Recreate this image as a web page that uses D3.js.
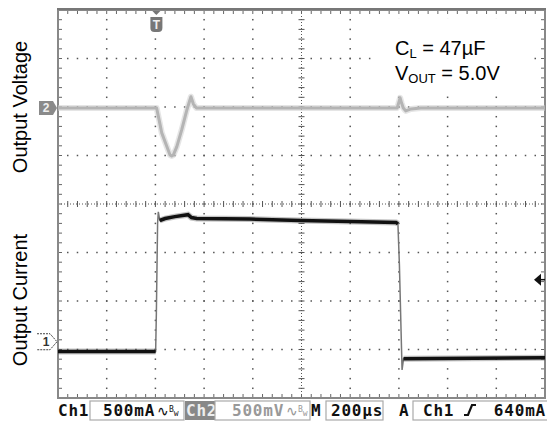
<!DOCTYPE html>
<html>
<head>
<meta charset="utf-8">
<script src="https://cdn.jsdelivr.net/npm/d3@7"></script>
<style>
body { margin: 0; background: #fff; }
svg { display: block; }
</style>
</head>
<body>
<script>
// Ch1: output current (A), time in µs from the left edge of the screen
var ch1Time = [0, 401, 404, 409, 412, 418, 440, 480, 534, 548, 570, 788, 994, 1199, 1388, 1396, 1402, 1409, 1413, 1419, 2000];
var ch1Amps = [-0.10, -0.10, 0.30, 1.22, 1.34, 1.25, 1.27, 1.29, 1.31, 1.28, 1.27, 1.265, 1.25, 1.24, 1.23, 1.215, 0.80, 0.10, -0.29, -0.175, -0.165];

// Ch2: output voltage, AC coupled, deviation from 5.0V in mV
var ch2Time = [0, 405, 415, 426, 447, 460, 467, 474, 488, 508, 529, 546, 556, 568, 1393, 1400, 1405, 1411, 1418, 1428, 1450, 1490, 2000];
var ch2mV = [0, 0, -120, -257, -398, -484, -495, -484, -398, -226, -21, 116, 40, 0, 0, 60, 105, 50, 0, -30, -10, 0, 0];

// scope settings
var ch1Scale = 500;      // mA / div
var ch2Scale = 500;      // mV / div
var timeScale = 200;     // µs / div
var trigLevel = 640;     // mA
var ch1Offset = -2.84;   // divisions from centre
var ch2Offset = 1.98;

var W = 547, H = 421;
var box = {left: 58, right: 545, top: 10, bottom: 398};

var svg = d3.select('body').append('svg')
    .attr('width', W)
    .attr('height', H)
    .style('font-family', '"Liberation Sans", Arial, sans-serif');

var x = d3.scaleLinear().domain([0, 10 * timeScale]).range([box.left, box.right]);
var yDiv = d3.scaleLinear().domain([-4, 4]).range([box.bottom, box.top]);

function ch1Y(a) { return yDiv(a * 1000 / ch1Scale + ch1Offset); }
function ch2Y(mv) { return yDiv(mv / ch2Scale + ch2Offset); }

var g = svg.append('g');

// grid: dots every minor division on each major line
var majorX = d3.range(1, 10).map(function(i) { return i * timeScale; });
var majorY = d3.range(-3, 4);
var minorX = d3.range(0, 51).map(function(i) { return i * timeScale / 5; });
var minorY = d3.range(0, 41).map(function(i) { return -4 + i / 5; });

majorX.forEach(function(t) {
    if (t === 5 * timeScale) return;
    g.selectAll(null).data(minorY).enter().append('rect')
        .attr('x', x(t) - 0.75).attr('y', function(d) { return yDiv(d) - 0.75; })
        .attr('width', 1.5).attr('height', 1.5)
        .attr('fill', '#555');
});
majorY.forEach(function(v) {
    if (v === 0) return;
    g.selectAll(null).data(minorX).enter().append('rect')
        .attr('x', function(d) { return x(d) - 0.75; }).attr('y', yDiv(v) - 0.75)
        .attr('width', 1.5).attr('height', 1.5)
        .attr('fill', '#555');
});

// centre lines with ticks
g.append('line')
    .attr('x1', box.left).attr('x2', box.right)
    .attr('y1', yDiv(0)).attr('y2', yDiv(0))
    .attr('stroke', '#555').attr('stroke-dasharray', '1,2');
g.append('line')
    .attr('x1', x(5 * timeScale)).attr('x2', x(5 * timeScale))
    .attr('y1', box.top).attr('y2', box.bottom)
    .attr('stroke', '#555').attr('stroke-dasharray', '1,2');
g.selectAll(null).data(minorX).enter().append('line')
    .attr('x1', function(d) { return x(d); }).attr('x2', function(d) { return x(d); })
    .attr('y1', yDiv(0) - 3).attr('y2', yDiv(0) + 3)
    .attr('stroke', '#555');
g.selectAll(null).data(minorY).enter().append('line')
    .attr('y1', function(d) { return yDiv(d); }).attr('y2', function(d) { return yDiv(d); })
    .attr('x1', x(5 * timeScale) - 3).attr('x2', x(5 * timeScale) + 3)
    .attr('stroke', '#555');

// edge ticks
g.selectAll(null).data(minorX).enter().append('line')
    .attr('x1', function(d) { return x(d); }).attr('x2', function(d) { return x(d); })
    .attr('y1', box.top).attr('y2', box.top + 4)
    .attr('stroke', '#666');
g.selectAll(null).data(minorX).enter().append('line')
    .attr('x1', function(d) { return x(d); }).attr('x2', function(d) { return x(d); })
    .attr('y1', box.bottom - 4).attr('y2', box.bottom)
    .attr('stroke', '#666');
g.selectAll(null).data(minorY).enter().append('line')
    .attr('y1', function(d) { return yDiv(d); }).attr('y2', function(d) { return yDiv(d); })
    .attr('x1', box.left).attr('x2', box.left + 4)
    .attr('stroke', '#666');
g.selectAll(null).data(minorY).enter().append('line')
    .attr('y1', function(d) { return yDiv(d); }).attr('y2', function(d) { return yDiv(d); })
    .attr('x1', box.right - 4).attr('x2', box.right)
    .attr('stroke', '#666');

// frame
g.append('rect')
    .attr('x', box.left).attr('y', box.top)
    .attr('width', box.right - box.left).attr('height', box.bottom - box.top)
    .attr('fill', 'none').attr('stroke', '#888').attr('stroke-width', 2);
g.append('line')
    .attr('x1', box.left - 1).attr('x2', box.right + 1)
    .attr('y1', box.top - 1).attr('y2', box.top - 1)
    .attr('stroke', '#777').attr('stroke-width', 2);

// annotation box hides the grid
svg.append('rect')
    .attr('x', 376).attr('y', 19).attr('width', 157).attr('height', 75)
    .attr('fill', '#fff');

var ann = svg.append('g').attr('font-size', 20).attr('fill', '#000');
var t1 = ann.append('text').attr('x', 395).attr('y', 55);
t1.append('tspan').text('C');
t1.append('tspan').attr('font-size', 13).attr('dy', 3).text('L');
t1.append('tspan').attr('dy', -3).text(' = 47µF');
var t2 = ann.append('text').attr('x', 395).attr('y', 80);
t2.append('tspan').text('V');
t2.append('tspan').attr('font-size', 13).attr('dy', 3).text('OUT');
t2.append('tspan').attr('dy', -3).text(' = 5.0V');

// traces
var line = d3.line().x(function(d) { return x(d[0]); }).y(function(d) { return d[1]; });

var ch2Pts = ch2Time.map(function(t, i) { return [t, ch2Y(ch2mV[i])]; });
svg.append('path').attr('d', line(ch2Pts))
    .attr('fill', 'none').attr('stroke', '#ccc').attr('stroke-width', 6)
    .attr('stroke-opacity', 0.5).attr('stroke-linejoin', 'round');
svg.append('path').attr('d', line(ch2Pts))
    .attr('fill', 'none').attr('stroke', '#b4b4b4').attr('stroke-width', 3)
    .attr('stroke-linejoin', 'round');

var ch1Pts = ch1Time.map(function(t, i) { return [t, ch1Y(ch1Amps[i])]; });
svg.append('path').attr('d', line(ch1Pts))
    .attr('fill', 'none').attr('stroke', '#777').attr('stroke-width', 1.5);

// thick where the trace is flat (noise band), thin on the edges
var runs = [], cur = [];
for (var i = 1; i < ch1Pts.length; i++) {
    var a = ch1Pts[i - 1], b = ch1Pts[i];
    var steep = Math.abs(b[1] - a[1]) > 4 * Math.abs(x(b[0]) - x(a[0]));
    if (steep) {
        if (cur.length) runs.push(cur);
        cur = [];
    } else {
        if (!cur.length) cur.push(a);
        cur.push(b);
    }
}
if (cur.length) runs.push(cur);
runs.forEach(function(r) {
    svg.append('path').attr('d', line(r))
        .attr('fill', 'none').attr('stroke', '#555').attr('stroke-width', 6)
        .attr('stroke-opacity', 0.35);
    svg.append('path').attr('d', line(r))
        .attr('fill', 'none').attr('stroke', '#111').attr('stroke-width', 3.5);
});

// channel markers
var m2y = ch2Y(0);
svg.append('path')
    .attr('d', 'M39,' + (m2y - 7) + 'H53L57,' + m2y + 'L53,' + (m2y + 7) + 'H39Z')
    .attr('fill', '#8a8a8a');
svg.append('text').attr('x', 46).attr('y', m2y + 4.5)
    .attr('text-anchor', 'middle').attr('font-size', 12).attr('font-weight', 'bold')
    .attr('fill', '#eee').text('2');

var m1y = ch1Y(0);
svg.append('path')
    .attr('d', 'M37,' + (m1y - 8) + 'H50L57,' + m1y + 'L50,' + (m1y + 8) + 'H37')
    .attr('fill', '#fff').attr('stroke', '#444').attr('stroke-width', 1)
    .attr('stroke-dasharray', '2,1');
svg.append('text').attr('x', 46).attr('y', m1y + 4.5)
    .attr('text-anchor', 'middle').attr('font-size', 12).attr('font-weight', 'bold')
    .attr('fill', '#333').text('1');

// trigger position marker
var tx = x(2 * timeScale) + 1;
svg.append('path')
    .attr('d', 'M' + (tx - 4) + ',11L' + (tx + 4) + ',11L' + tx + ',15Z')
    .attr('fill', '#777');
svg.append('path')
    .attr('d', 'M' + (tx - 6) + ',17H' + (tx + 6) + 'V28Q' + (tx + 6) + ',32 ' + (tx + 2) + ',32H' + (tx - 2) + 'Q' + (tx - 6) + ',32 ' + (tx - 6) + ',28Z')
    .attr('fill', '#777');
svg.append('text').attr('x', tx).attr('y', 28.5)
    .attr('text-anchor', 'middle').attr('font-size', 12).attr('font-weight', 'bold')
    .attr('fill', '#eee').text('T');

// trigger level marker
var ty = ch1Y(trigLevel / 1000);
svg.append('path')
    .attr('d', 'M534,' + ty + 'L541,' + (ty - 6) + 'L541,' + (ty + 6) + 'Z')
    .attr('fill', '#111');
svg.append('line').attr('x1', 540).attr('x2', 545).attr('y1', ty).attr('y2', ty)
    .attr('stroke', '#111').attr('stroke-width', 1.5);

// axis labels
svg.append('text')
    .attr('transform', 'translate(27,107) rotate(-90)')
    .attr('text-anchor', 'middle').attr('font-size', 20)
    .text('Output Voltage');
svg.append('text')
    .attr('transform', 'translate(27,300) rotate(-90)')
    .attr('text-anchor', 'middle').attr('font-size', 20)
    .text('Output Current');

// status bar
var sb = svg.append('g')
    .style('font-family', '"DejaVu Sans Mono", monospace')
    .attr('font-size', 16).attr('font-weight', 'bold')
    .attr('letter-spacing', 0.8);
var sy = 416;

function frameBox(x0, w) {
    sb.append('rect').attr('x', x0).attr('y', 401).attr('width', w).attr('height', 19)
        .attr('fill', '#fff').attr('stroke', '#aaa').attr('stroke-width', 1.2);
}
function bwSymbol(x0, col) {
    var s = sb.append('text').attr('x', x0).attr('y', sy).attr('font-size', 14)
        .attr('font-weight', 'normal').attr('letter-spacing', 0).attr('fill', col);
    s.append('tspan').text('∿');
    s.append('tspan').attr('font-size', 8).attr('dy', -4).text('B');
    s.append('tspan').attr('font-size', 8).attr('dy', 4).text('w');
}

sb.append('text').attr('x', 58).attr('y', sy).attr('fill', '#111').text('Ch1');
frameBox(90, 94);
sb.append('text').attr('x', 103).attr('y', sy).attr('fill', '#111').text(ch1Scale + 'mA');
bwSymbol(157, '#111');

sb.append('rect').attr('x', 185).attr('y', 401).attr('width', 30).attr('height', 19).attr('fill', '#888');
sb.append('text').attr('x', 186).attr('y', sy).attr('fill', '#eee').text('Ch2');
frameBox(215, 95);
sb.append('text').attr('x', 232).attr('y', sy).attr('fill', '#999').text(ch2Scale + 'mV');
bwSymbol(286, '#999');

sb.append('text').attr('x', 311).attr('y', sy).attr('fill', '#111').text('M');
frameBox(326, 57);
sb.append('text').attr('x', 331).attr('y', sy).attr('fill', '#111').text(timeScale + 'µs');

sb.append('text').attr('x', 399).attr('y', sy).attr('fill', '#111').text('A');
frameBox(413, 140);
sb.append('text').attr('x', 423).attr('y', sy).attr('fill', '#111').text('Ch1');
sb.append('path')
    .attr('d', 'M464,' + (sy - 1) + 'H468L472,' + (sy - 11) + 'H476')
    .attr('fill', 'none').attr('stroke', '#111').attr('stroke-width', 2.2);
sb.append('text').attr('x', 546).attr('y', sy).attr('text-anchor', 'end')
    .attr('fill', '#111').text(trigLevel + 'mA');
</script>
</body>
</html>
